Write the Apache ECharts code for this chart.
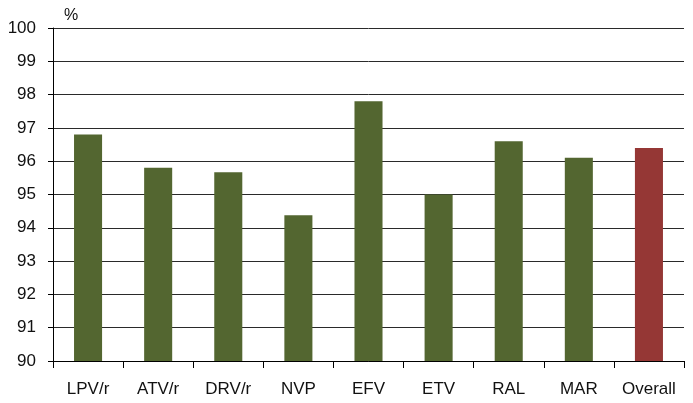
<!DOCTYPE html>
<html>
<head>
<meta charset="utf-8">
<script src="https://cdn.jsdelivr.net/npm/echarts@6/dist/echarts.min.js"></script>
<style>html,body{margin:0;padding:0;background:#fff;}#c{width:693px;height:403px;}</style>
</head>
<body>
<div id="c"></div>
<script>
const categories = ['LPV/r', 'ATV/r', 'DRV/r', 'NVP', 'EFV', 'ETV', 'RAL', 'MAR', 'Overall'];
const values = [96.8, 95.8, 95.67, 94.38, 97.8, 95.0, 96.6, 96.1, 96.4];
const barColors = ['#536630', '#536630', '#536630', '#536630', '#536630', '#536630', '#536630', '#536630', '#953735'];
const yTicks = { min: 90, max: 100, interval: 1 };

const chart = echarts.init(document.getElementById('c'));
chart.setOption({
  animation: false,
  textStyle: { fontFamily: 'Liberation Sans, Arial, sans-serif' },
  grid: { left: 53, right: 9, top: 28, bottom: 42, containLabel: false },
  xAxis: {
    type: 'category',
    data: categories,
    axisLine: { lineStyle: { color: '#000', width: 1 } },
    axisTick: { show: true, length: 7, lineStyle: { color: '#000' } },
    axisLabel: { color: '#111', fontSize: 17, margin: 20 }
  },
  yAxis: {
    type: 'value',
    min: yTicks.min, max: yTicks.max, interval: yTicks.interval,
    name: '%',
    nameLocation: 'end',
    nameGap: 4,
    nameTextStyle: { color: '#111', fontSize: 16, align: 'left', padding: [0, 0, 0, 11] },
    axisLine: { show: true, lineStyle: { color: '#000', width: 1 } },
    axisTick: { show: true, length: 5, lineStyle: { color: '#000' } },
    axisLabel: { color: '#111', fontSize: 17, margin: 17 },
    splitLine: { show: true, lineStyle: { color: '#2a2a2a', width: 1 } }
  },
  series: [{
    type: 'bar',
    data: values.map((v, i) => ({ value: v, itemStyle: { color: barColors[i] } })),
    barWidth: '40%'
  }]
});
</script>
</body>
</html>
